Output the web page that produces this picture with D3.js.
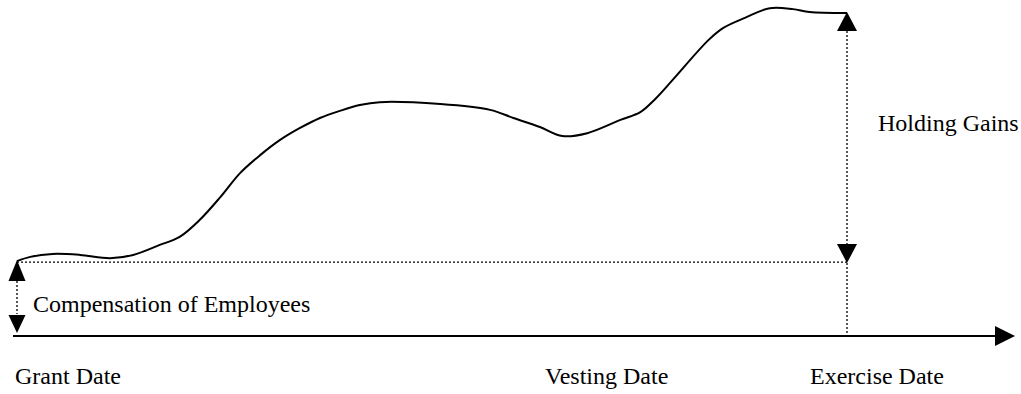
<!DOCTYPE html>
<html>
<head>
<meta charset="utf-8">
<script src="https://cdn.jsdelivr.net/npm/d3@7"></script>
<style>
  body { margin: 0; background: #fff; }
  svg text { font-family: "Liberation Serif", "Times New Roman", serif; font-size: 24px; fill: #000; }
</style>
</head>
<body>
<svg width="1021" height="394"></svg>
<script>
// time (0 = grant date, 100 = exercise date) and share value along the curve
const times = [0, 1.6, 4.3, 7.6, 11.2, 14.0, 17.2, 19.6, 22.0, 24.5, 26.9, 29.3, 31.7, 34.1, 36.5, 38.9, 41.3, 43.7,
               51.0, 57.0, 59.8, 63.0, 65.7, 68.7, 72.7, 75.1, 76.9, 79.0, 83.3, 85.1, 87.7, 90.7, 93.5, 95.5, 100];
const values = [23.2, 24.5, 25.4, 25.1, 24.1, 25.1, 28.2, 30.7, 35.9, 43.0, 50.5, 56.0, 60.7, 64.4, 67.5, 69.7, 71.5, 72.4,
                71.8, 70.0, 67.5, 64.7, 61.9, 62.8, 66.9, 69.3, 73.4, 79.3, 91.6, 95.4, 98.5, 101.5, 101.2, 100.3, 100];
const dateLabels = ["Grant Date", "Vesting Date", "Exercise Date"];
const gainLabels = ["Compensation of Employees", "Holding Gains"];

const svg = d3.select('svg');

const x = d3.scaleLinear().domain([0, 100]).range([17, 847]);
const y = d3.scaleLinear().domain([0, 100]).range([336, 13]);

const data = times.map((t, i) => ({t: t, v: values[i]}));
const grantPrice = values[0];
const exercisePrice = values[values.length - 1];

// axis with arrow head
svg.append('line')
    .attr('x1', 13).attr('x2', 996)
    .attr('y1', y(0)).attr('y2', y(0))
    .attr('stroke', '#000').attr('stroke-width', 2);
svg.append('path')
    .attr('d', d3.line()([[995, y(0) - 10], [1015, y(0)], [995, y(0) + 10]]) + 'Z')
    .attr('fill', '#000');

// dotted guides
const dotted = (x1, y1, x2, y2) => svg.append('line')
    .attr('x1', x1).attr('y1', y1).attr('x2', x2).attr('y2', y2)
    .attr('stroke', '#000').attr('stroke-width', 1.3)
    .attr('stroke-dasharray', '2,2');

dotted(x(0), y(grantPrice) + 1, x(100), y(grantPrice) + 1);
dotted(x(0), y(grantPrice) + 20, x(0), y(0) - 22);
dotted(x(100), y(exercisePrice) + 18, x(100), y(0));

// triangles
const tri = (cx, tipY, dir, hw, h) => svg.append('path')
    .attr('d', d3.line()([[cx, tipY], [cx - hw, tipY + dir * h], [cx + hw, tipY + dir * h]]) + 'Z')
    .attr('fill', '#000');

tri(x(0), y(grantPrice) - 1, 1, 8.5, 21);
tri(x(0), y(0) - 3, -1, 8.5, 18);
tri(x(100), y(exercisePrice) - 1, 1, 10, 19);
tri(x(100), y(grantPrice) + 2, -1, 10, 19);

// share price curve
svg.append('path')
    .datum(data)
    .attr('fill', 'none')
    .attr('stroke', '#000')
    .attr('stroke-width', 2)
    .attr('d', d3.line().x(d => x(d.t)).y(d => y(d.v)).curve(d3.curveCatmullRom));

// labels
svg.append('text').attr('x', 33).attr('y', 312).text(gainLabels[0]);
svg.append('text').attr('x', 878).attr('y', 131).text(gainLabels[1]);

const labelX = [15, 545, 810];
svg.selectAll('.date-label')
    .data(dateLabels)
    .enter()
    .append('text')
    .attr('class', 'date-label')
    .attr('x', (d, i) => labelX[i])
    .attr('y', 384)
    .text(d => d);
</script>
</body>
</html>
